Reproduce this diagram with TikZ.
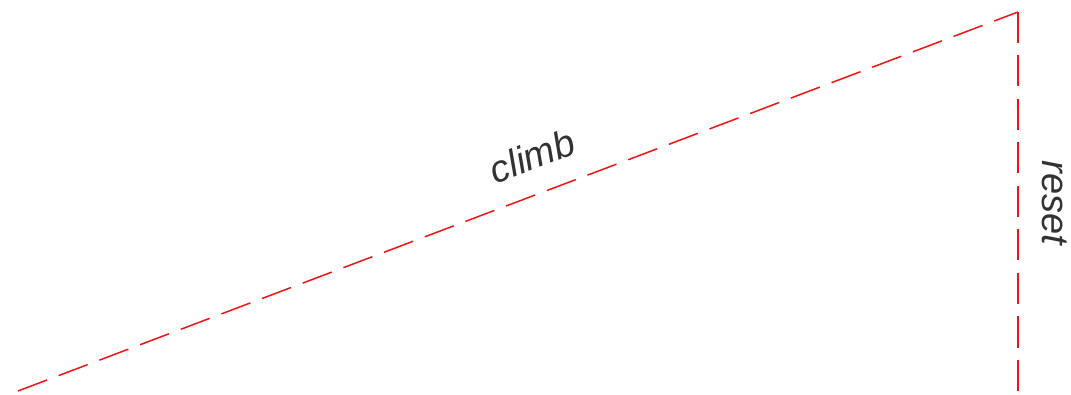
\documentclass[tikz,border=0pt]{standalone}
\usepackage{fontspec}
\setmainfont{Liberation Sans}
\begin{document}
\begin{tikzpicture}[x=1pt,y=-1pt,
  path/.style={draw={rgb,255:red,240;green,20;blue,20},line width=1.5pt,dash pattern=on 31pt off 12.5pt},
  lbl/.style={text={rgb,255:red,50;green,50;blue,50},font=\itshape\fontsize{38}{42}\selectfont,inner sep=0pt}]
\useasboundingbox (0,0) rectangle (1071,395);
\coordinate (start) at (18,391);
\coordinate (peak) at (1018,12);
\coordinate (bottom) at (1018,391);
\draw[path] (start) -- (peak);
\draw[path] (peak) -- (bottom);
\node[lbl,rotate=20.75] (climb) at (532,156) {climb};
\node[lbl,rotate=-90] (reset) at (1055,203) {reset};
\end{tikzpicture}
\end{document}
